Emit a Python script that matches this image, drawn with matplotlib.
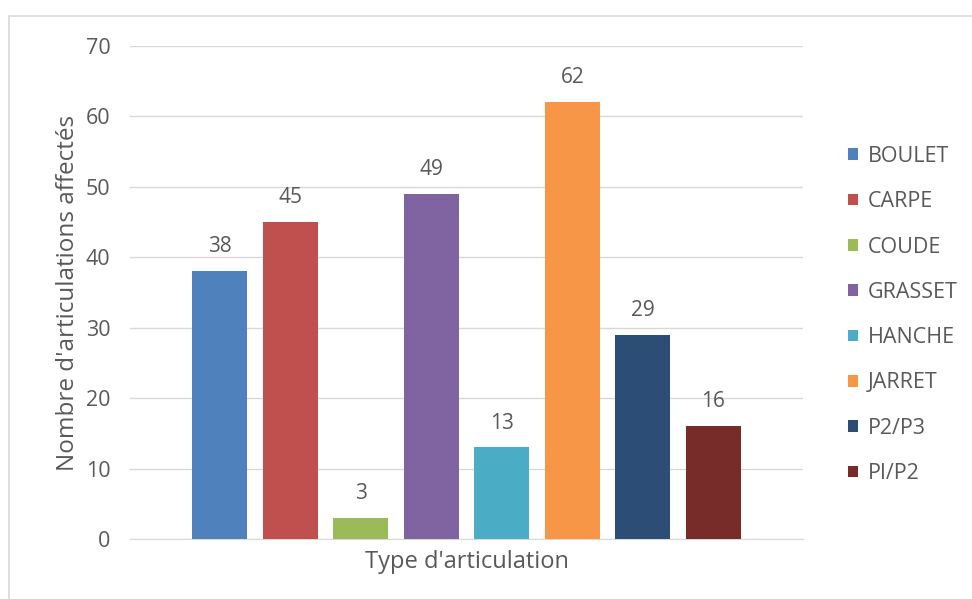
import numpy as np
import matplotlib
matplotlib.use('Agg')
import matplotlib.pyplot as plt
from matplotlib.patches import Rectangle

# data
categories = ['BOULET', 'CARPE', 'COUDE', 'GRASSET', 'HANCHE', 'JARRET', 'P2/P3', 'PI/P2']
values = [38, 45, 3, 49, 13, 62, 29, 16]
colors = ['#4F81BD', '#C0504D', '#9BBB59', '#8064A2', '#4BACC6', '#F79646', '#2C4D75', '#772C2A']
yticks = [0, 10, 20, 30, 40, 50, 60, 70]

plt.rcParams['font.family'] = ['Open Sans', 'DejaVu Sans']
txt_col = '#595959'
grid_col = '#d9d9d9'

fig = plt.figure(figsize=(9.72, 5.99), dpi=100)
ax = fig.add_axes([130/972, 1-539/599, (803-130)/972, (539-46)/599])

# light frame around chart (top and left edges visible)
fig.patches.append(Rectangle((9/972, -0.1), 1.2, 1 - 16/599 + 0.1, transform=fig.transFigure,
                             fill=False, edgecolor=grid_col, linewidth=1.2))

n = len(categories)
x = np.arange(n) - (n - 1) / 2
bars = ax.bar(x, values, width=0.78, color=colors, label=categories, zorder=3)

for xi, v in zip(x, values):
    ax.annotate(str(v), (xi, v), xytext=(0, 10), textcoords='offset points',
                ha='center', va='bottom', fontsize=15, color=txt_col)

ax.set_xlim(-4.77, 4.77)
ax.set_ylim(0, 70)
ax.set_yticks(yticks)
ax.set_xticks([])
ax.yaxis.grid(True, color=grid_col, linewidth=1, zorder=0)
for s in ['top', 'right', 'left']:
    ax.spines[s].set_visible(False)
ax.spines['bottom'].set_color(grid_col)
ax.tick_params(axis='y', length=0, pad=14, labelsize=15.5, labelcolor=txt_col)

ax.set_xlabel("Type d'articulation", fontsize=17, color=txt_col, labelpad=8)
ax.set_ylabel("Nombre d'articulations affectés", fontsize=17.5, color=txt_col, labelpad=4)

leg = ax.legend(loc='center left', bbox_to_anchor=(829/972, 1 - 315/599), bbox_transform=fig.transFigure,
                frameon=False, fontsize=15.5, handlelength=0.45, handleheight=0.45,
                handletextpad=0.45, labelspacing=1.13, labelcolor=txt_col)

fig.savefig('out.png', dpi=100, facecolor='white')
